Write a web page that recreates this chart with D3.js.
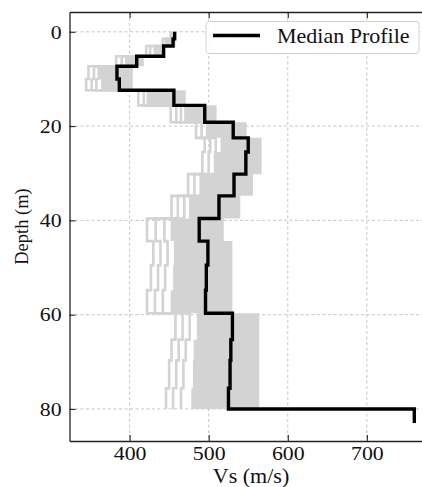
<!DOCTYPE html>
<html><head><meta charset="utf-8">
<script src="https://cdn.jsdelivr.net/npm/d3@7"></script>
<style>body{margin:0;background:#fff}</style></head>
<body><svg id="c" width="422" height="487"></svg>
<script>
// ---- data ----
const layerTops   = [0,1.5,3,5.2,7.3,10,12.4,15.6,19.2,22.5,25.5,30.2,34.8,39.6,44.4,49.5,54.8,59.7,65.3,69.7,75.6];
const layerBottom = 80;
const halfSpaceBottom = 83;
const medianVs    = [457,455,443,409,384,387,456,495,531,550,547,532,513,488,499,497,496,530,528,527,525];
const halfSpaceVs = 760;
const profileA    = [452,442,421,383,348,345,411,452,484,495,492,474,453,422,430,427,422,458,453,450,446];
const profileB    = [454,446,426,390,355,352,418,459,491,502,500,482,461,433,439,436,432,467,462,459,455];
const profileC    = [455,450,432,396,361,358,423,465,498,509,508,490,469,444,448,445,442,476,471,468,465];
const bandMin     = [452,446,432,396,361,364,423,469,498,515,508,490,475,452,456,455,452,485,481,480,478];
const bandMax     = [458,458,445,418,404,404,471,510,548,567,567,556,540,519,530,530,530,564,564,564,564];
const xTicks = [400,500,600,700];
const yTicks = [0,20,40,60,80];
const xLabel = "Vs (m/s)", yLabel = "Depth (m)", legendLabel = "Median Profile";

// ---- layout ----
const L=69.5, R=432.5, T=12, B=441;
const FONT = "Liberation Serif, Times New Roman, serif";
const SX = 1.12;
const svg = d3.select("#c");
const x = d3.scaleLinear().domain([324,783]).range([L,R]);
const y = d3.scaleLinear().domain([-4.2,86.8]).range([T,B]);

svg.append("defs").append("clipPath").attr("id","clip")
  .append("rect").attr("x",L).attr("y",T).attr("width",R-L).attr("height",B-T);

// grid
const grid = svg.append("g");
grid.selectAll(".gx").data(xTicks).join("line")
  .attr("x1",d=>x(d)).attr("x2",d=>x(d)).attr("y1",T).attr("y2",B)
  .attr("stroke","#b8b8b8").attr("stroke-width",0.8).attr("stroke-dasharray","3,2.5");
grid.selectAll(".gy").data(yTicks).join("line")
  .attr("y1",d=>y(d)).attr("y2",d=>y(d)).attr("x1",L).attr("x2",R)
  .attr("stroke","#b8b8b8").attr("stroke-width",0.8).attr("stroke-dasharray","3,2.5");

// helpers
const bottoms = layerTops.slice(1).concat([layerBottom]);
function stepPts(vals){
  const pts=[];
  vals.forEach((v,i)=>{pts.push([v,layerTops[i]]);pts.push([v,bottoms[i]]);});
  return pts;
}
const data = svg.append("g").attr("clip-path","url(#clip)");

// band
const bandPts=[];
bandMin.forEach((v,i)=>{
  bandPts.push({d:layerTops[i],a:v,b:bandMax[i]});
  bandPts.push({d:bottoms[i],a:v,b:bandMax[i]});
});
data.append("path").datum(bandPts)
  .attr("d",d3.area().y(p=>y(p.d)).x0(p=>x(p.a)).x1(p=>x(p.b)))
  .attr("fill","#d3d3d3");

// grey profiles
const line = d3.line().x(p=>x(p[0])).y(p=>y(p[1]));
[profileA,profileB,profileC].forEach(pr=>{
  data.append("path").datum(stepPts(pr)).attr("d",line)
    .attr("fill","none").attr("stroke","#d3d3d3").attr("stroke-width",2.6);
});

// median
const medPts = stepPts(medianVs).concat([[halfSpaceVs,layerBottom],[halfSpaceVs,halfSpaceBottom]]);
data.append("path").datum(medPts).attr("d",line)
  .attr("fill","none").attr("stroke","#000").attr("stroke-width",3.4)
  .attr("stroke-linejoin","miter");

// axes
function styleAxis(g){
  g.attr("font-family",FONT);
  g.select(".domain").attr("stroke","#222").attr("stroke-width",1.3);
  g.selectAll(".tick line").attr("stroke","#222").attr("stroke-width",1.1);
  g.selectAll("text").attr("font-family",FONT).attr("font-size",19.5).attr("fill","#111");
}
const ax = svg.append("g").attr("transform",`translate(0,${B})`)
  .call(d3.axisBottom(x).tickValues(xTicks).tickSizeInner(-6).tickSizeOuter(0).tickPadding(5));
styleAxis(ax);
ax.selectAll("text").attr("transform",`scale(${SX},1)`).attr("dy","0.71em");
const axT = svg.append("g").attr("transform",`translate(0,${T})`)
  .call(d3.axisTop(x).tickValues(xTicks).tickSizeInner(-6).tickSizeOuter(0).tickFormat(""));
styleAxis(axT);
const ay = svg.append("g").attr("transform",`translate(${L},0)`)
  .call(d3.axisLeft(y).tickValues(yTicks).tickSizeInner(-6).tickSizeOuter(0).tickPadding(7));
styleAxis(ay);
ay.selectAll("text").attr("transform",`scale(${SX},1)`);

// axis labels
svg.append("text").attr("transform",`translate(${(L+R)/2},${482.5}) scale(1.05,1)`)
  .attr("text-anchor","middle").attr("font-family",FONT).attr("font-size",21).attr("fill","#111").text(xLabel);
svg.append("text").attr("transform",`translate(${28},${226.5}) rotate(-90)`)
  .attr("text-anchor","middle").attr("font-family",FONT).attr("font-size",18.5).attr("fill","#111").text(yLabel);

// legend
const lg = svg.append("g");
lg.append("rect").attr("x",206).attr("y",21.5).attr("width",213).attr("height",32).attr("rx",3)
  .attr("fill","#fff").attr("fill-opacity",0.9).attr("stroke","#d0d0d0").attr("stroke-width",1);
lg.append("line").attr("x1",213).attr("x2",260).attr("y1",35.5).attr("y2",35.5)
  .attr("stroke","#000").attr("stroke-width",3.4);
lg.append("text").attr("transform",`translate(277,43) scale(1.1,1)`)
  .attr("font-family",FONT).attr("font-size",20).attr("fill","#111").text(legendLabel);
</script></body></html>
